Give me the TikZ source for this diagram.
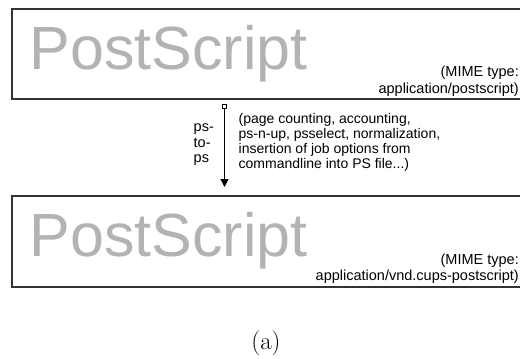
\documentclass[tikz,border=0pt]{standalone}
\usepackage{fontspec}
\newfontfamily\arialf{Liberation Sans}
\usetikzlibrary{arrows.meta}
\definecolor{boxline}{HTML}{333333}
\definecolor{psgray}{HTML}{B3B3B3}
\begin{document}
\begin{tikzpicture}[x=1pt,y=-1pt,
  fmtbox/.style={draw=boxline, line width=1.5pt, minimum width=512pt, anchor=north west, inner sep=0pt},
  bigps/.style={font=\arialf\fontsize{61}{61}\selectfont, text=psgray, inner sep=0pt, anchor=base west},
  mime/.style={font=\arialf\fontsize{14.5}{16.5}\selectfont, align=right, inner sep=0pt, anchor=south east},
  desc/.style={font={\arialf\fontsize{14}{15}\selectfont\lineskiplimit=-20pt}, align=left, inner sep=0pt, anchor=north west},
  filter/.style={font={\arialf\fontsize{14.5}{15.5}\selectfont\lineskiplimit=-20pt}, align=left, inner sep=0pt, anchor=north west},
  flow/.style={line width=1.1pt, {Square[open,length=5pt,width=5pt]}-{Triangle[length=8pt,width=8pt]}}]
\useasboundingbox (0,0) rectangle (520,359);
% boxes
\node[fmtbox, minimum height=90pt] (topbox) at (11,8) {};
\node[fmtbox, minimum height=91pt] (botbox) at (11,195) {};
% big labels
\node[bigps] (toplabel) at (29.5,69.5) {PostScript};
\node[bigps] (botlabel) at (29.5,256) {PostScript};
% mime types
\node[mime] (topmime) at (519,96.5) {(MIME type:\\application/postscript)};
\node[mime] (botmime) at (519,284) {(MIME type:\\application/vnd.cups-postscript)};
% filter arrow
\coordinate (flowstart) at (224.5,104);
\coordinate (flowend) at (224.5,187);
\draw[flow] (flowstart) -- (flowend);
\node[filter] (filtername) at (193.5,124) {ps-\\to-\\ps};
\node[desc] (filterdesc) at (238.5,113.3) {(page counting, accounting,\\ps-n-up, psselect, normalization,\\insertion of job options from\\commandline into PS file...)};
% caption
\node[font=\fontsize{25}{30}\selectfont, anchor=base, inner sep=0pt] (caption) at (266,349) {(a)};
\end{tikzpicture}
\end{document}
